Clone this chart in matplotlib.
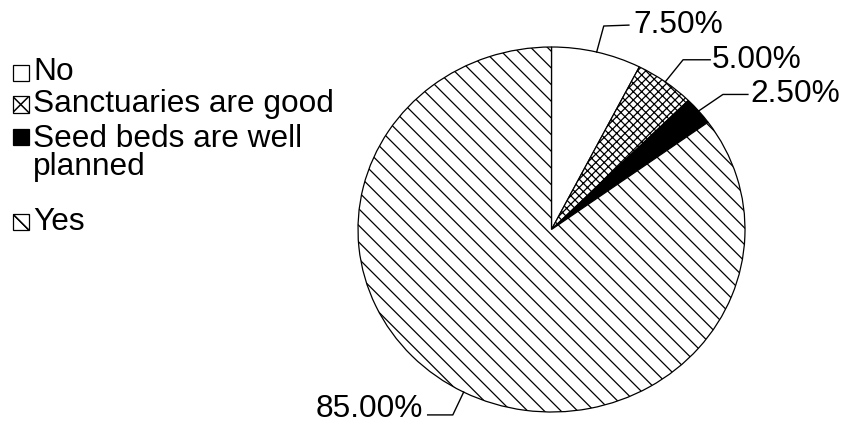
import matplotlib
matplotlib.use("Agg")
import matplotlib.pyplot as plt
from matplotlib.patches import Rectangle
import numpy as np

plt.rcParams['font.family'] = ['Liberation Sans', 'DejaVu Sans']
plt.rcParams['hatch.linewidth'] = 0.9

categories = ["No", "Sanctuaries are good", "Seed beds are well\nplanned", "Yes"]
values = [7.5, 5.0, 2.5, 85.0]
pct_labels = ["7.50%", "5.00%", "2.50%", "85.00%"]
colors = ["white", "white", "black", "white"]
hatches = ["", "xxxx", "", "\\\\"]

FS = 22.8
W, H = 842, 428
fig = plt.figure(figsize=(W / 100, H / 100), dpi=100)
fig.patch.set_facecolor("white")

# pie axes placed on the pie bounding box (pixels)
px0, px1, py0, py1 = 358, 745, 47, 412
ax = fig.add_axes([px0 / W, (H - py1) / H, (px1 - px0) / W, (py1 - py0) / H])
wedges, _ = ax.pie(values, colors=colors, startangle=90, counterclock=False,
                   radius=1.0, wedgeprops=dict(edgecolor="black", linewidth=0.9))
for w, h in zip(wedges, hatches):
    w.set_hatch(h)
ax.set_aspect('auto')
ax.set_xlim(-1, 1)
ax.set_ylim(-1, 1)
ax.axis('off')

# leader lines: (elbow, end, text_x, text_y, ha)
leaders = [
    ((0.27, 1.115), (0.40, 1.12), 0.425, 1.12, 'left'),
    ((0.68, 0.93), (0.82, 0.93), 0.83, 0.93, 'left'),
    ((0.886, 0.74), (1.015, 0.74), 1.03, 0.74, 'left'),
    ((-0.51, -1.016), (-0.64, -1.016), -0.665, -0.982, 'right'),
]
cum = 0.0
total = sum(values)
for v, lab, (el, en, tx, ty, ha) in zip(values, pct_labels, leaders):
    mid = 90 - 360 * (cum + v / 2) / total
    cum += v
    sx, sy = np.cos(np.radians(mid)), np.sin(np.radians(mid))
    ax.plot([sx, el[0], en[0]], [sy, el[1], en[1]], color="black", lw=1.0, clip_on=False)
    ax.text(tx, ty, lab, ha=ha, va='center', fontsize=FS, clip_on=False)

# legend drawn in pixel coordinates
lax = fig.add_axes([0, 0, 1, 1])
lax.set_xlim(0, W)
lax.set_ylim(H, 0)
lax.axis('off')
lax.set_zorder(-1)
box_centers = [73, 104.5, 137, 222]
text_centers = [72, 104, 153, 222]
bs = 16.5
for i, (cat, c, by, ty) in enumerate(zip(categories, colors, box_centers, text_centers)):
    x0, y0 = 12.5, by - bs / 2
    r = Rectangle((x0, y0), bs, bs, facecolor=c, edgecolor="black", linewidth=0.9)
    lax.add_patch(r)
    if hatches[i].startswith("x"):
        for xs, ys in [([x0, x0 + bs], [y0, y0 + bs]), ([x0, x0 + bs], [y0 + bs, y0])]:
            ln, = lax.plot(xs, ys, color="black", lw=1.1)
            ln.set_clip_path(r)
    elif hatches[i].startswith("\\"):
        for off in (0, bs * 0.95):
            ln, = lax.plot([x0 + off, x0 + off + bs], [y0, y0 + bs], color="black", lw=1.0)
            ln.set_clip_path(r)
            ln2, = lax.plot([x0 - off, x0 - off + bs], [y0, y0 + bs], color="black", lw=1.0)
            ln2.set_clip_path(r)
    lax.text(33, ty, cat, ha='left', va='center', fontsize=FS, linespacing=0.95)

fig.savefig("out.png", dpi=100)
